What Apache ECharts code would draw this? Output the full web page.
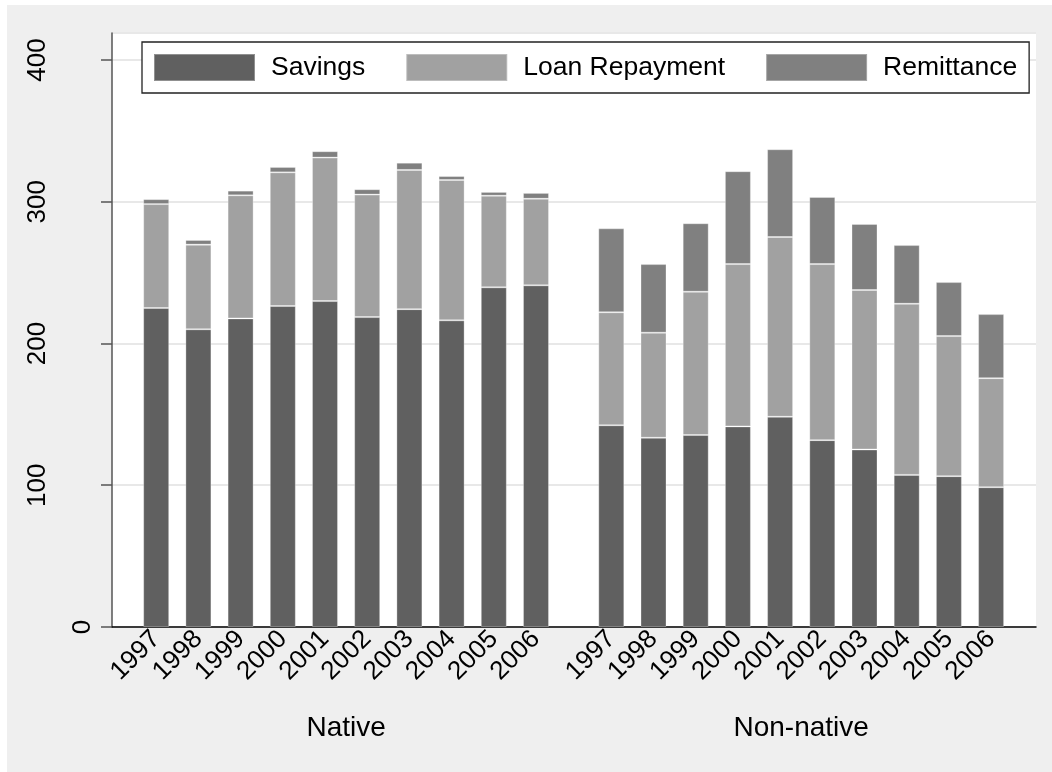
<!DOCTYPE html>
<html>
<head>
<meta charset="utf-8">
<script src="https://cdn.jsdelivr.net/npm/echarts@6/dist/echarts.min.js"></script>
<style>
html,body{margin:0;padding:0;background:#fff;}
#chart{width:1052px;height:772px;}
</style>
</head>
<body>
<div id="chart"></div>
<script>
var years = ['1997','1998','1999','2000','2001','2002','2003','2004','2005','2006'];
var groupNames = ['Native','Non-native'];
var seriesNames = ['Savings','Loan Repayment','Remittance'];
var yTicks = [0,100,200,300,400];

var nativeSavings   = [225.0, 210.0, 217.7, 226.4, 229.9, 218.6, 224.2, 216.3, 239.6, 241.0];
var nativeLoan      = [73.3, 59.7, 86.8, 94.3, 101.2, 86.4, 98.2, 99.0, 64.6, 61.1];
var nativeRemit     = [3.5, 3.3, 3.3, 3.8, 4.5, 3.8, 5.1, 2.8, 2.7, 4.1];

var nonNativeSavings = [142.3, 133.5, 135.4, 141.5, 148.3, 131.8, 125.2, 107.3, 106.4, 98.6];
var nonNativeLoan    = [79.7, 74.1, 101.1, 114.5, 126.8, 124.2, 112.5, 120.7, 98.8, 76.9];
var nonNativeRemit   = [59.2, 48.4, 48.3, 65.5, 61.9, 47.3, 46.6, 41.4, 38.1, 45.2];

var colors = ['#606060', '#a1a1a1', '#808080'];
var FONT = 'Liberation Sans, Arial, Helvetica, sans-serif';
var YMAX = 419;

var chart = echarts.init(document.getElementById('chart'), null, {renderer:'canvas'});

function groupXAxis(idx, name) {
  return {
    type: 'category', gridIndex: idx, data: years,
    axisLine: {show: false}, axisTick: {show: false},
    axisLabel: {rotate: 45, margin: 8, fontSize: 26, color: '#000', fontFamily: FONT, interval: 0},
    name: name, nameLocation: 'middle', nameGap: 87,
    nameTextStyle: {fontSize: 28, color: '#000', fontFamily: FONT}
  };
}
function groupYAxis(idx) {
  return {type: 'value', gridIndex: idx, min: 0, max: YMAX, show: false, splitLine: {show: false}};
}
function bars(idx, data) {
  return data.map(function (d, i) {
    return {
      type: 'bar', name: seriesNames[i], xAxisIndex: idx, yAxisIndex: idx,
      stack: 'g' + idx, data: d, barWidth: 26,
      itemStyle: {color: colors[i], borderColor: 'rgba(255,255,255,0.3)', borderWidth: 1},
      emphasis: {disabled: true}
    };
  });
}

var option = {
  backgroundColor: '#efefef',
  animation: false,
  textStyle: {fontFamily: FONT},
  graphic: [
    {type: 'rect', shape: {x: 0, y: 0, width: 1052, height: 5}, style: {fill: '#fff'}, silent: true},
    {type: 'rect', shape: {x: 0, y: 0, width: 7, height: 772}, style: {fill: '#fff'}, silent: true}
  ],
  legend: {
    data: seriesNames, left: 142, top: 42, orient: 'horizontal',
    itemWidth: 101, itemHeight: 27, itemGap: 40, icon: 'rect',
    padding: [11, 12, 11, 11],
    borderColor: '#222', borderWidth: 1.3, backgroundColor: '#fff',
    selectedMode: false,
    textStyle: {fontSize: 26.5, color: '#000', fontFamily: FONT, padding: [0, 0, 0, 11]}
  },
  grid: [
    {left: 112, right: 16, top: 33, bottom: 145, show: true, backgroundColor: '#fff', borderWidth: 0},
    {left: 135.1, width: 422, top: 33, bottom: 145},
    {left: 590.2, width: 422, top: 33, bottom: 145}
  ],
  xAxis: [
    {type: 'value', gridIndex: 0, min: 0, max: 1, axisLine: {show: true, onZero: false, lineStyle: {color: '#000', width: 1.5}},
     axisTick: {show: false}, axisLabel: {show: false}, splitLine: {show: false}},
    groupXAxis(1, groupNames[0]),
    groupXAxis(2, groupNames[1])
  ],
  yAxis: [
    {type: 'value', gridIndex: 0, min: yTicks[0], max: YMAX, interval: 100,
     axisLine: {show: true, lineStyle: {color: '#555', width: 1.5}},
     axisTick: {show: true, length: 11, lineStyle: {color: '#555', width: 1.5}},
     splitLine: {show: true, lineStyle: {color: '#e8e8e8', width: 2}},
     axisLabel: {
       rotate: 90, margin: 16, color: '#000', fontSize: 26, fontFamily: FONT,
       formatter: function (v) { return v === 0 ? '{z|0}' : '{n|' + v + '}'; },
       rich: {z: {fontSize: 26, fontFamily: FONT, padding: [0, 0, 0, 0]},
              n: {fontSize: 26, fontFamily: FONT, padding: [0, 0, 45, 0]}}
     }},
    groupYAxis(1),
    groupYAxis(2)
  ],
  series: bars(1, [nativeSavings, nativeLoan, nativeRemit]).concat(
          bars(2, [nonNativeSavings, nonNativeLoan, nonNativeRemit]))
};
chart.setOption(option);
</script>
</body>
</html>
